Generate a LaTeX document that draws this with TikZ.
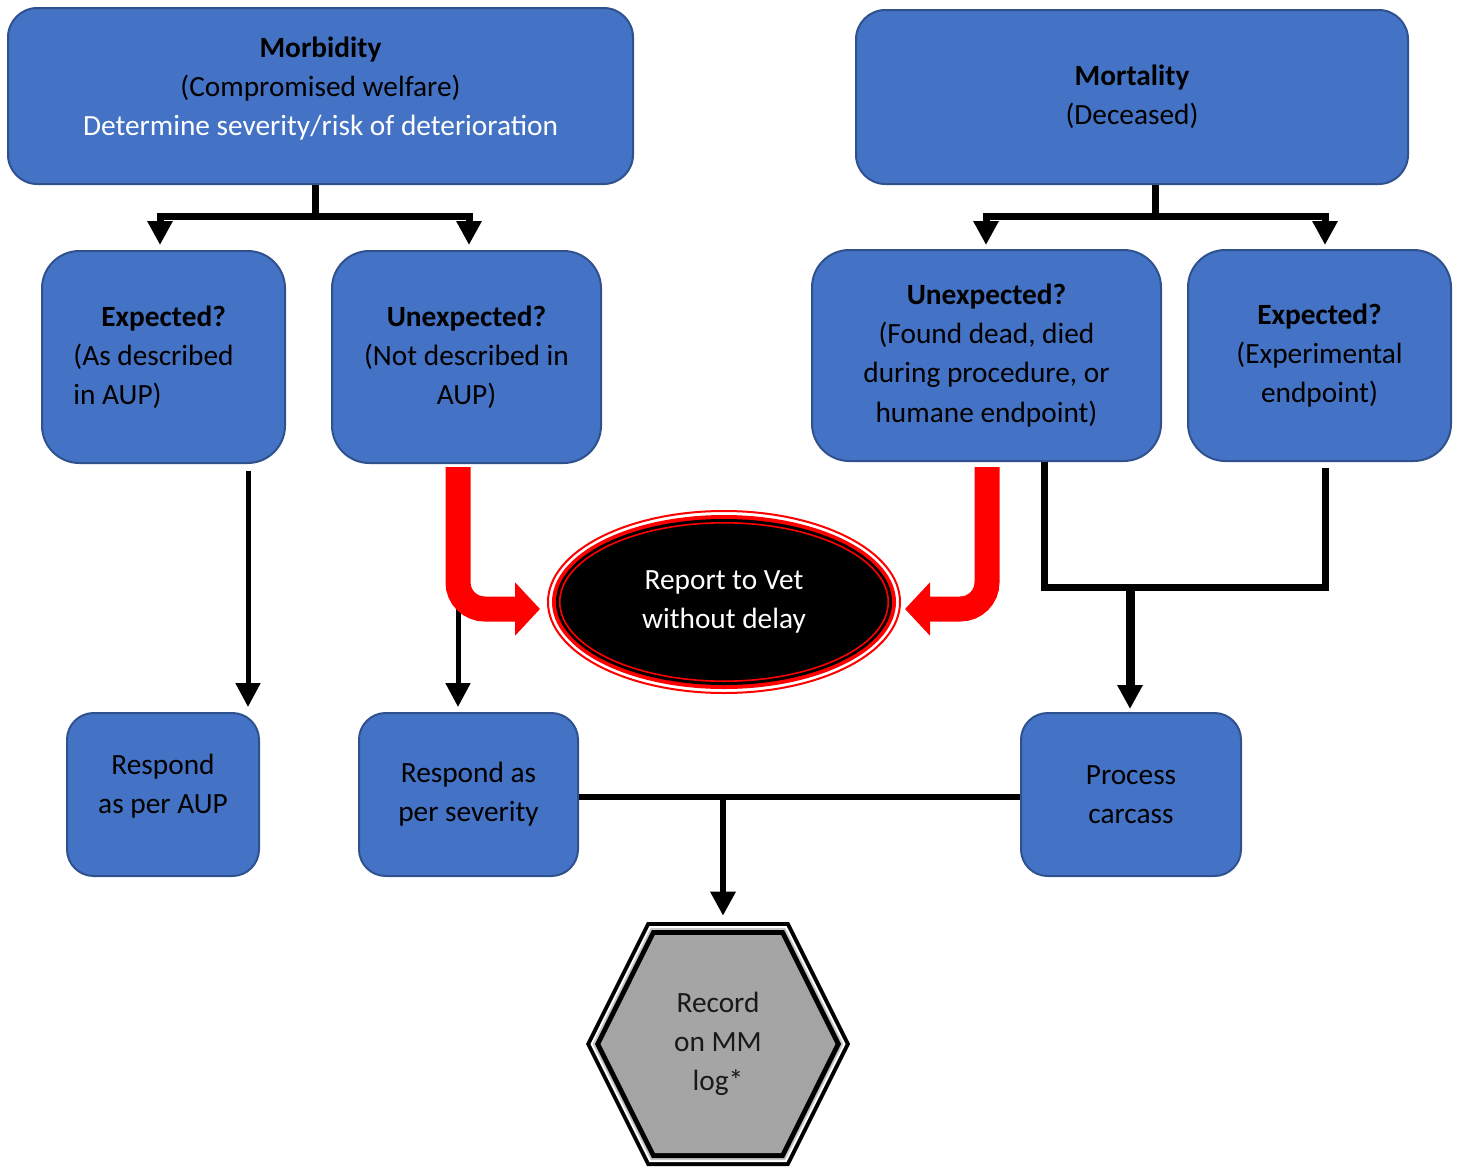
\documentclass[tikz,border=0pt]{standalone}
\usepackage{fontspec}
\setmainfont{Carlito}
\usetikzlibrary{arrows.meta,shapes.geometric,calc}
\definecolor{boxblue}{HTML}{4472C4}
\definecolor{boxedge}{HTML}{2F528F}
\definecolor{hexgray}{HTML}{A5A5A5}
\definecolor{hexlight}{HTML}{C8C8C8}
\definecolor{vetred}{HTML}{FF0000}
\newcommand\hexshape[3]{(-#1,0) -- (-#3,-#2) -- (#3,-#2) -- (#1,0) -- (#3,#2) -- (-#3,#2) -- cycle}
\begin{document}
\begin{tikzpicture}[x=0.75pt,y=-0.75pt,
  txt/.style={font=\fontsize{22}{29.3}\selectfont},
  box/.style={draw=boxedge, line width=1.5pt, fill=boxblue, rounded corners=#1, align=center, inner sep=0pt, txt},
  conn/.style={line width=#1, draw=black},
  tipb/.style={-{Triangle[length=18pt,width=18pt]}},
  redarrow/.style={draw=vetred, line width=18.75pt, rounded corners=20pt, -{Triangle[length=18.75pt,width=39pt]}}
]
\useasboundingbox (0,0) rectangle (1459,1167);

% boxes
\node[box=22pt, minimum width=468.75pt, minimum height=132pt] (morb) at (320.5,96)
  {\textbf{Morbidity}\\(Compromised welfare)\\\textcolor{white}{Determine severity/risk of deterioration}\rule[-15pt]{0pt}{0pt}};
\node[box=22pt, minimum width=414pt, minimum height=130.5pt] (mort) at (1132,97)
  {\textbf{Mortality}\\(Deceased)};
\node[box=28pt, minimum width=182.25pt, minimum height=159pt, align=left] (e1) at (163.5,357)
  {\hspace*{21pt}\textbf{Expected?}\\(As described\rule{15pt}{0pt}\\in AUP)};
\node[box=28pt, minimum width=201.75pt, minimum height=159pt] (u1) at (466.5,357)
  {\textbf{Unexpected?}\\(Not described in\\AUP)};
\node[box=28pt, minimum width=261.75pt, minimum height=158.25pt] (u2) at (986.5,355.5)
  {\textbf{Unexpected?}\\(Found dead, died\\during procedure, or\\humane endpoint)};
\node[box=28pt, minimum width=197.25pt, minimum height=158.25pt] (e2) at (1319.5,355.5)
  {\textbf{Expected?}\\(Experimental\\endpoint)};
\node[box=20pt, minimum width=144pt, minimum height=122.25pt] (r1) at (163,794.5)
  {Respond\\as per AUP\rule[-16.5pt]{0pt}{0pt}};
\node[box=20pt, minimum width=164.25pt, minimum height=122.25pt] (r2) at (468.5,794.5)
  {Respond as\\per severity};
\node[box=20pt, minimum width=165pt, minimum height=122.25pt] (pc) at (1131,794.5)
  {Process\\carcass};

% hexagon
\begin{scope}[shift={(718,1044)}]
  \fill[black] \hexshape{132}{122}{71};
  \fill[white] \hexshape{127.5}{118}{68.6};
  \fill[hexlight] \hexshape{125.3}{116}{67.3};
  \fill[black] \hexshape{123}{114}{66.1};
  \fill[hexgray] \hexshape{117.4}{109}{63.1};
\end{scope}
\node[txt, align=center, text=black!90, minimum width=198pt, minimum height=183pt, inner sep=0pt] (rec) at (718,1044)
  {Record\\on MM\\log*};

% connectors top
\coordinate (mj) at ($(morb.south)+(-5.5,31)$);
\draw[conn=5.25pt] ($(morb.south)+(-5.5,0)$) -- (mj);
\draw[conn=5.25pt, tipb] (mj) -| ($(e1.north)+(-3.5,-5)$);
\draw[conn=5.25pt, tipb] (mj) -| ($(u1.north)+(2.5,-5)$);

\coordinate (tj) at ($(mort.south)+(23,31)$);
\draw[conn=5.25pt] ($(mort.south)+(23,0)$) -- (tj);
\draw[conn=5.25pt, tipb] (tj) -| ($(u2.north)+(-0.5,-4)$);
\draw[conn=5.25pt, tipb] (tj) -| ($(e2.north)+(5.5,-4)$);

% vertical arrows
\draw[conn=3.75pt, tipb] ($(e1.south)+(84.5,7)$) -- ($(r1.north)+(85,-5)$);
\draw[conn=3.75pt, tipb] ($(u1.south)+(-8.5,5)$) -- ($(r2.north)+(-10.5,-5)$);

% mortality to carcass
\coordinate (cj) at (1130,587);
\draw[conn=5.25pt] ($(u2.south)+(57.5,0)$) |- (cj) -| ($(e2.south)+(5.5,6)$);
\draw[conn=6.75pt, tipb] (cj) -- ($(pc.north)+(-1,-3)$);

% bottom
\coordinate (bj) at (723,797);
\draw[conn=4.5pt] ($(r2.east)+(0,2.5)$) -- ($(pc.west)+(0,2.5)$);
\draw[conn=4.5pt, tipb] (bj) -- ($(rec.north)+(5,-6)$);

% vet ellipse
\node[ellipse, draw=vetred, line width=1.5pt, fill=white, inner sep=0pt,
      minimum width=264pt, minimum height=136.5pt, txt, text=white, align=center,
      path picture={
        \fill[vetred] (path picture bounding box.center) ellipse [x radius=129pt, y radius=65.25pt];
        \fill[black] (path picture bounding box.center) ellipse [x radius=126pt, y radius=62.25pt];
        \draw[vetred, line width=1.2pt] (path picture bounding box.center) ellipse [x radius=123.2pt, y radius=59.4pt];
      }] (vet) at (724,602) {Report to Vet\\without delay};

% red arrows
\draw[redarrow] ($(u1.south)+(-8.5,3)$) |- ($(vet.west)+(-7,7)$);
\draw[redarrow] ($(u2.south)+(0.5,5)$) |- ($(vet.east)+(4,7)$);

\end{tikzpicture}
\end{document}
